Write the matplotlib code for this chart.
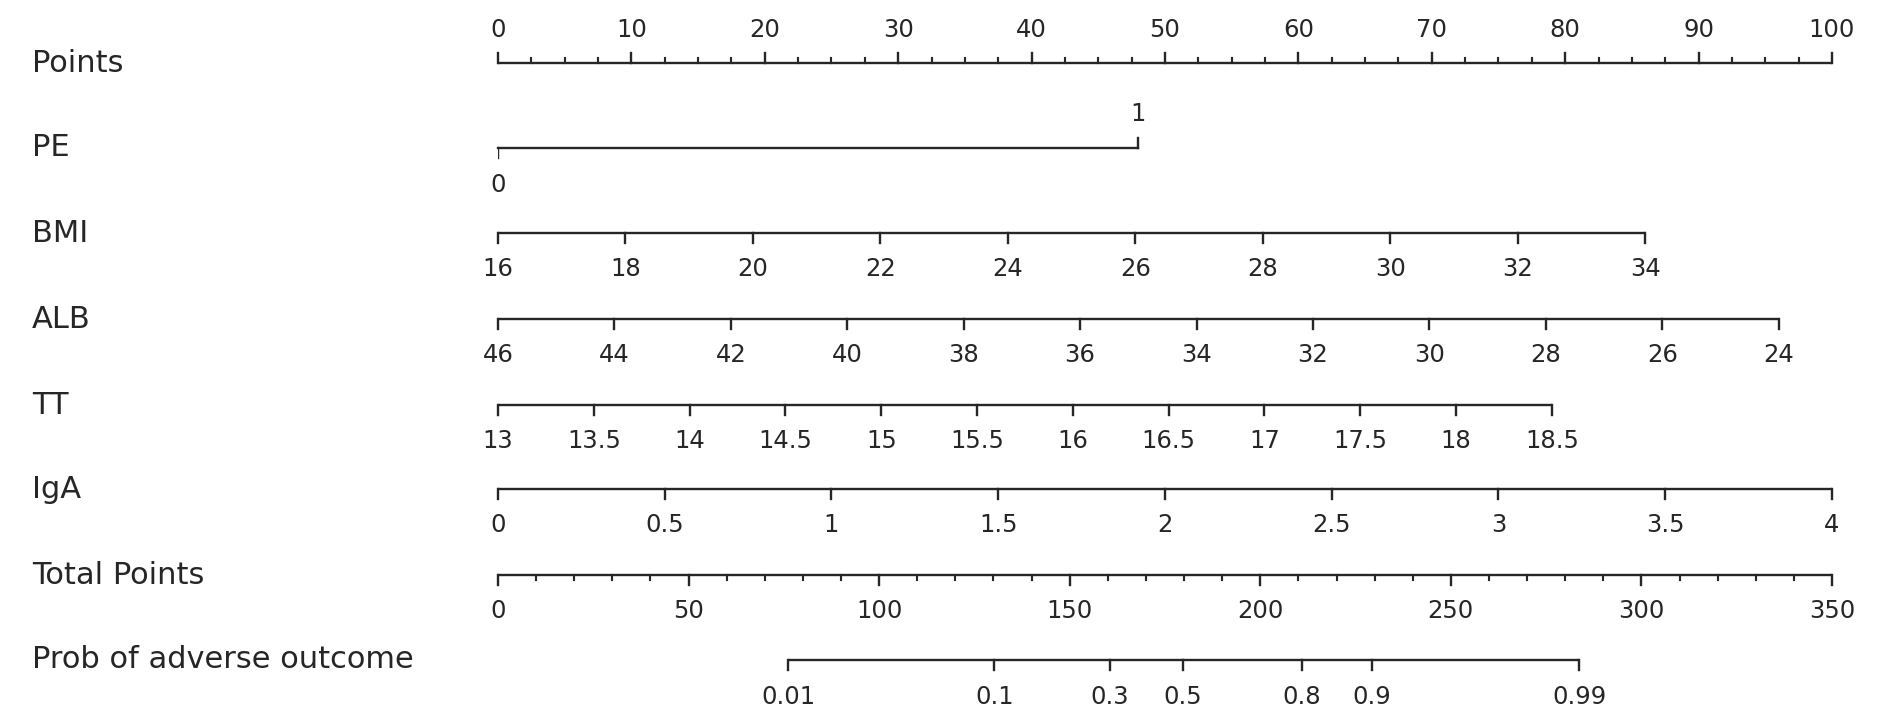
import matplotlib
matplotlib.use("Agg")
import matplotlib.pyplot as plt
import matplotlib.transforms as mtransforms
import numpy as np

# ---------------------------------------------------------------------------
# Nomogram data
# ---------------------------------------------------------------------------
POINTS_MAJOR = [0, 10, 20, 30, 40, 50, 60, 70, 80, 90, 100]
POINTS_MINOR = [2.5, 5, 7.5, 12.5, 15, 17.5, 22.5, 25, 27.5, 32.5, 35, 37.5,
                42.5, 45, 47.5, 52.5, 55, 57.5, 62.5, 65, 67.5, 72.5, 75, 77.5,
                82.5, 85, 87.5, 92.5, 95, 97.5]

PE_LABELS = ["0", "1"]
PE_POINTS = [0, 48]

BMI_TICKS = [16, 18, 20, 22, 24, 26, 28, 30, 32, 34]
BMI_RANGE = [16, 34]
BMI_POINTS = [0, 86]

ALB_TICKS = [46, 44, 42, 40, 38, 36, 34, 32, 30, 28, 26, 24]
ALB_RANGE = [46, 24]
ALB_POINTS = [0, 96]

TT_TICKS = [13, 13.5, 14, 14.5, 15, 15.5, 16, 16.5, 17, 17.5, 18, 18.5]
TT_RANGE = [13, 18.5]
TT_POINTS = [0, 79]

IGA_TICKS = [0, 0.5, 1, 1.5, 2, 2.5, 3, 3.5, 4]
IGA_RANGE = [0, 4]
IGA_POINTS = [0, 100]

TOTAL_MAJOR = [0, 50, 100, 150, 200, 250, 300, 350]
TOTAL_MINOR = [10, 20, 30, 40, 60, 70, 80, 90, 110, 120, 130, 140, 160, 170,
               180, 190, 210, 220, 230, 240, 260, 270, 280, 290, 310, 320,
               330, 340]
TOTAL_MAX = 350

PROB_LABELS = ["0.01", "0.1", "0.3", "0.5", "0.8", "0.9", "0.99"]
PROB_TOTAL = [76.1, 130.2, 160.6, 179.7, 210.9, 229.3, 283.7]

ROW_LABELS = ["Points", "PE", "BMI", "ALB", "TT", "IgA", "Total Points",
              "Prob of adverse outcome"]

# ---------------------------------------------------------------------------
# Style
# ---------------------------------------------------------------------------
LINE_COLOR = "#262626"
TEXT_COLOR = "#262626"
LABEL_SIZE = 22
TICK_SIZE = 17.5
LW = 1.7
MAJOR_LEN = 10
MINOR_LEN = 5
ROW_Y = [63, 148, 233, 319, 405, 489, 575, 660]  # pixel rows of axis lines

W, H = 1890, 724
X0, X1 = 498, 1832

fig = plt.figure(figsize=(W / 100, H / 100), dpi=100)
ax = fig.add_axes([X0 / W, 0, (X1 - X0) / W, 1])
ax.set_xlim(0, 100)
ax.set_ylim(H, 0)
ax.axis("off")


def draw_scale(y, pos, labels, minor=None, up=False, label_gap=35):
    sgn = -1 if up else 1
    ax.plot([min(pos), max(pos)], [y, y], color=LINE_COLOR, lw=LW,
            solid_capstyle="butt", clip_on=False)
    for p, lab in zip(pos, labels):
        ax.plot([p, p], [y, y + sgn * MAJOR_LEN], color=LINE_COLOR, lw=LW,
                clip_on=False)
        ax.text(p, y + sgn * label_gap, lab, ha="center", va="center",
                fontsize=TICK_SIZE, color=TEXT_COLOR, clip_on=False)
    if minor is not None:
        for p in minor:
            ax.plot([p, p], [y, y + sgn * MINOR_LEN], color=LINE_COLOR,
                    lw=LW * 0.9, clip_on=False)


def fmt(v):
    return f"{v:g}"


# Points
draw_scale(ROW_Y[0], POINTS_MAJOR, [fmt(v) for v in POINTS_MAJOR],
           minor=POINTS_MINOR, up=True, label_gap=33)

# PE: "1" above, "0" below
y = ROW_Y[1]
ax.plot(PE_POINTS, [y, y], color=LINE_COLOR, lw=LW, clip_on=False)
ax.plot([PE_POINTS[0]] * 2, [y, y + MAJOR_LEN], color=LINE_COLOR, lw=LW)
ax.plot([PE_POINTS[1]] * 2, [y, y - MAJOR_LEN], color=LINE_COLOR, lw=LW)
ax.text(PE_POINTS[0], y + 37, PE_LABELS[0], ha="center", va="center",
        fontsize=TICK_SIZE, color=TEXT_COLOR)
ax.text(PE_POINTS[1], y - 34, PE_LABELS[1], ha="center", va="center",
        fontsize=TICK_SIZE, color=TEXT_COLOR)

# continuous variables
for row, ticks, rng, pts in [(2, BMI_TICKS, BMI_RANGE, BMI_POINTS),
                             (3, ALB_TICKS, ALB_RANGE, ALB_POINTS),
                             (4, TT_TICKS, TT_RANGE, TT_POINTS),
                             (5, IGA_TICKS, IGA_RANGE, IGA_POINTS)]:
    t = np.array(ticks, dtype=float)
    pos = pts[0] + (t - rng[0]) / (rng[1] - rng[0]) * (pts[1] - pts[0])
    draw_scale(ROW_Y[row], pos, [fmt(v) for v in ticks], label_gap=36)

# Total points
scale = 100 / TOTAL_MAX
draw_scale(ROW_Y[6], [v * scale for v in TOTAL_MAJOR],
           [fmt(v) for v in TOTAL_MAJOR],
           minor=[v * scale for v in TOTAL_MINOR], label_gap=36)

# Probability
draw_scale(ROW_Y[7], [v * scale for v in PROB_TOTAL], PROB_LABELS,
           label_gap=37)

# row labels
trans = mtransforms.blended_transform_factory(fig.transFigure, ax.transData)
for yy, lab in zip(ROW_Y, ROW_LABELS):
    ax.text(32 / W, yy, lab, transform=trans, ha="left", va="center",
            fontsize=LABEL_SIZE, color=TEXT_COLOR, clip_on=False)

fig.savefig("out.png", dpi=100)
